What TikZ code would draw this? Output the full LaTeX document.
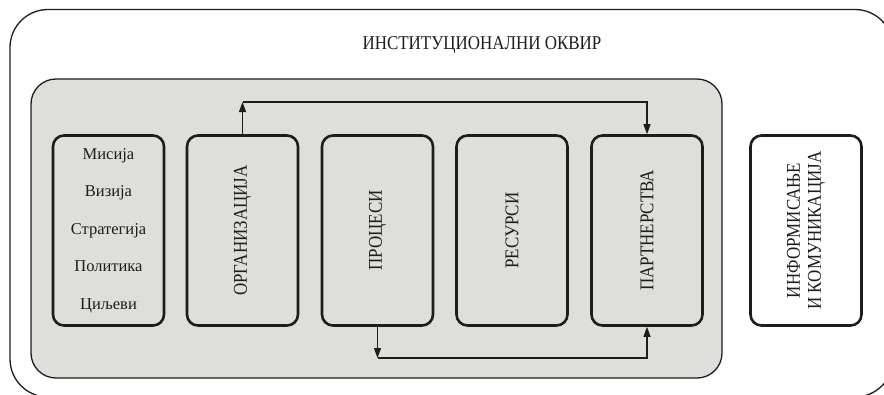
\documentclass[tikz,border=0pt]{standalone}
\usepackage{fontspec}
\setmainfont{Liberation Serif}
\newfontfamily\capsfont[FakeStretch=0.87]{Liberation Serif}
\usetikzlibrary{arrows.meta}

\definecolor{ink}{RGB}{30,28,28}
\definecolor{panel}{RGB}{222,222,218}

\tikzset{
  frame/.style={draw=ink, line width=1.3pt},
  stepbox/.style={draw=ink, line width=2.6pt, rounded corners=11pt,
    minimum width=111pt, minimum height=190pt, inner sep=0pt},
  vlabel/.style={rotate=90, font=\capsfont\fontsize{19.5}{21}\selectfont,
    text=ink, align=center, inner sep=0pt},
  flow/.style={draw=ink, line width=1.2pt},
  flowarrow/.style={flow, -{Triangle[length=10pt,width=7pt]}},
}

\begin{document}
\begin{tikzpicture}[x=1pt, y=-1pt]
  \useasboundingbox (0,0) rectangle (884,394);
  \clip (0,0) rectangle (884,394);
  \fill[white] (0,0) rectangle (884,394);

  % institutional frame and its title
  \draw[frame, rounded corners=38pt] (10,9.5) rectangle (893,397);
  \node[font=\capsfont\fontsize{19.5}{21}\selectfont, text=ink] (title) at (482,45)
    {ИНСТИТУЦИОНАЛНИ ОКВИР};

  % shaded panel holding the organisational elements
  \draw[frame, fill=panel, rounded corners=25pt] (31,79) rectangle (722,378);

  % element boxes
  \node[stepbox, align=center, font=\fontsize{16.5}{37.5}\selectfont, text=ink]
    (b1) at (108.5,230.5) {Мисија\\Визија\\Стратегија\\Политика\\Циљеви};
  \node[stepbox] (b2) at (242.5,230.5) {};
  \node[stepbox] (b3) at (377.5,230.5) {};
  \node[stepbox] (b4) at (512,230.5) {};
  \node[stepbox] (b5) at (647,230.5) {};
  \node[stepbox, fill=white] (b6) at (806,230.5) {};

  \node[vlabel] (l2) at (b2) {ОРГАНИЗАЦИЈА};
  \node[vlabel] (l3) at (b3) {ПРОЦЕСИ};
  \node[vlabel] (l4) at (b4) {РЕСУРСИ};
  \node[vlabel] (l5) at (b5) {ПАРТНЕРСТВА};
  \node[vlabel] (l6) at (b6) {ИНФОРМИСАЊЕ\\И КОМУНИКАЦИЈА};

  % upper link: organisation to partnerships
  \coordinate (tl) at (242.5,102);
  \coordinate (tr) at (647,102);
  \draw[flowarrow] (b2.north) -- (tl);
  \draw[flowarrow] (tl) -- (tr) -- (b5.north);

  % lower link: processes to partnerships
  \coordinate (bl) at (377.5,358);
  \draw[flowarrow] (b3.south) -- (bl);
  \draw[flowarrow] (bl) -| (b5.south);
\end{tikzpicture}
\end{document}
